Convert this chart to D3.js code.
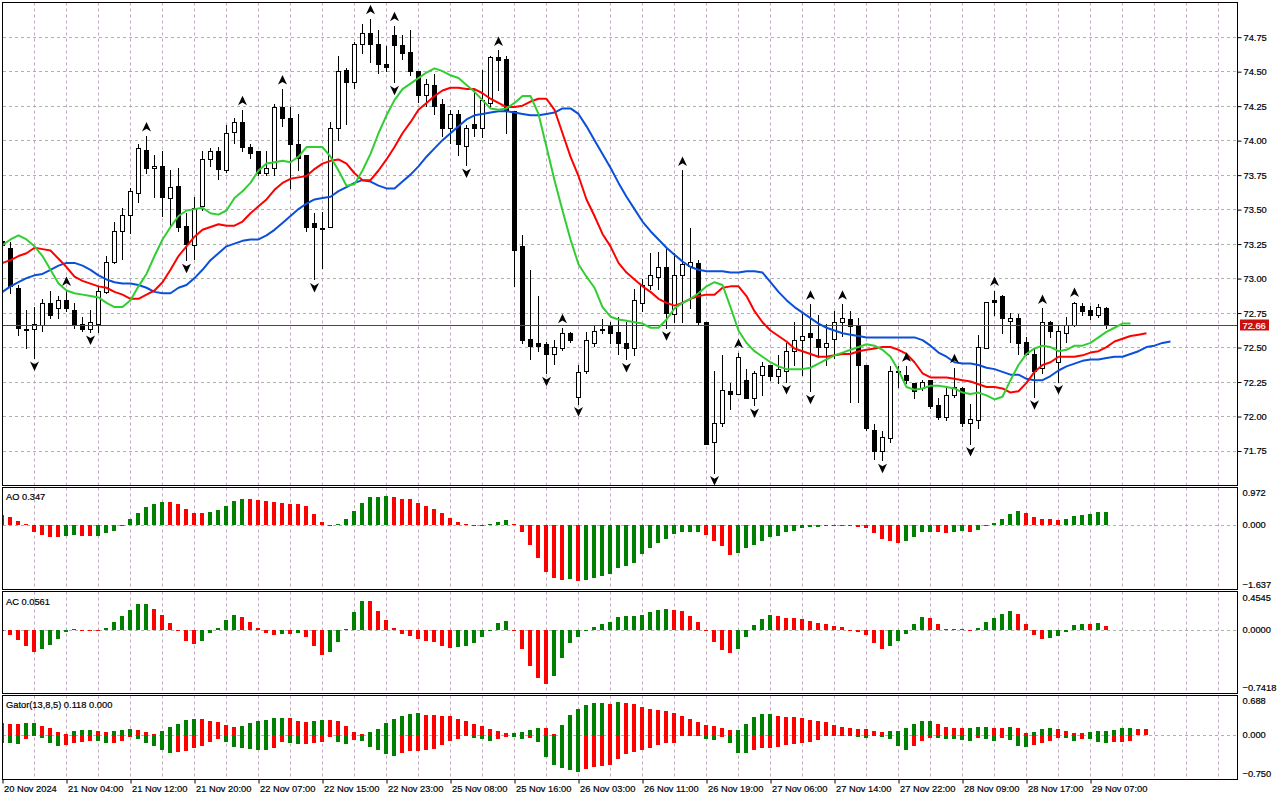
<!DOCTYPE html>
<html>
<head>
<meta charset="utf-8">
<script src="https://cdn.jsdelivr.net/npm/d3@7"></script>
<style>
body { margin: 0; background: #fff; }
svg text { font-family: "Liberation Sans", Arial, sans-serif; font-size: 9.3px; fill: #000; stroke: #000; stroke-width: 0.2px; }
svg text.tag { fill: #fff; stroke: #fff; }
</style>
</head>
<body>
<svg id="chart" width="1280" height="800"></svg>
<script>
var width = 1280, height = 800;

// H1 candles, bar 0 = 20 Nov 20:00
var opens = [73.27,73.22,72.93,72.63,72.63,72.66,72.82,72.78,72.84,72.77,
  72.67,72.63,72.67,72.90,73.12,73.34,73.46,73.62,73.93,73.80,
  73.81,73.58,73.67,73.38,73.24,73.52,73.86,73.92,73.78,74.06,
  74.13,73.95,73.92,73.76,73.80,74.24,74.16,73.97,73.89,73.40,
  73.36,73.37,74.09,74.51,74.42,74.70,74.78,74.70,74.55,74.76,
  74.69,74.64,74.50,74.33,74.40,74.26,74.09,74.19,73.96,74.12,
  74.09,74.27,74.60,74.59,74.21,73.23,72.56,72.53,72.52,72.45,
  72.49,72.60,72.14,72.33,72.53,72.63,72.65,72.61,72.53,72.49,
  72.82,72.95,73.01,73.08,72.74,73.02,73.09,73.11,72.68,71.81,
  71.95,72.18,72.16,72.26,72.13,72.30,72.37,72.29,72.33,72.47,
  72.55,72.60,72.56,72.50,72.56,72.68,72.70,72.65,72.37,71.90,
  71.75,71.84,72.33,72.30,72.24,72.20,72.26,72.08,71.99,72.15,
  72.20,71.95,71.97,72.49,72.84,72.87,72.69,72.71,72.54,72.45,
  72.35,72.68,72.39,72.60,72.66,72.80,72.77,72.73,72.78];
var highs = [73.30,73.26,72.95,72.77,72.79,72.85,72.91,72.87,72.91,72.82,
  72.72,72.77,72.94,73.16,73.41,73.51,73.65,73.97,74.03,73.89,
  73.92,73.78,73.80,73.47,73.59,73.92,73.94,73.95,74.11,74.16,
  74.22,73.97,73.92,73.92,74.26,74.37,74.24,74.19,73.89,73.47,
  73.48,74.13,74.61,74.52,74.71,74.84,74.88,74.80,74.68,74.83,
  74.76,74.80,74.50,74.44,74.48,74.30,74.22,74.22,74.11,74.36,
  74.51,74.61,74.65,74.61,74.21,73.31,73.06,72.87,72.54,72.55,
  72.64,72.61,72.37,72.61,72.66,72.70,72.68,72.72,72.68,72.92,
  72.99,73.18,73.19,73.21,73.18,73.78,73.36,73.13,72.68,72.33,
  72.44,72.24,72.46,72.34,72.33,72.39,72.37,72.44,72.53,72.68,
  72.74,72.81,72.73,72.67,72.76,72.81,72.76,72.71,72.37,71.94,
  71.89,72.36,72.36,72.36,72.24,72.26,72.26,72.13,72.20,72.35,
  72.21,72.09,72.59,72.83,72.91,72.88,72.75,72.74,72.57,72.49,
  72.78,72.69,72.66,72.72,72.83,72.82,72.80,72.81,72.79];
var lows = [73.20,72.89,72.59,72.49,72.42,72.62,72.71,72.71,72.76,72.64,
  72.62,72.61,72.61,72.89,73.11,73.14,73.33,73.55,73.76,73.59,
  73.45,73.37,73.34,73.13,73.14,73.49,73.81,73.72,73.77,73.98,
  73.92,73.87,73.75,73.75,73.75,74.10,73.65,73.78,73.34,72.99,
  73.07,73.37,74.00,74.12,74.38,74.63,74.57,74.49,74.50,74.42,
  74.59,74.47,74.28,74.25,74.19,74.03,73.98,73.89,73.82,74.03,
  74.02,74.24,74.36,74.05,72.94,72.53,72.41,72.47,72.31,72.38,
  72.48,72.54,72.09,72.31,72.51,72.60,72.53,72.45,72.41,72.44,
  72.76,72.92,72.92,72.64,72.68,72.68,72.78,72.66,71.80,71.59,
  71.93,72.05,72.16,72.13,72.08,72.15,72.26,72.24,72.25,72.37,
  72.30,72.18,72.43,72.37,72.42,72.58,72.10,72.10,71.90,71.69,
  71.68,71.81,72.21,72.24,72.13,72.19,72.06,71.98,71.97,72.14,
  71.93,71.80,71.91,72.49,72.73,72.60,72.54,72.45,72.44,72.14,
  72.31,72.57,72.25,72.54,72.65,72.73,72.70,72.72,72.64];
var closes = [73.24,72.94,72.64,72.63,72.67,72.82,72.73,72.84,72.78,72.66,
  72.63,72.68,72.91,73.12,73.34,73.46,73.63,73.94,73.80,73.81,
  73.59,73.66,73.37,73.25,73.51,73.86,73.92,73.79,74.05,74.13,
  73.95,73.91,73.76,73.80,74.24,74.16,73.97,73.87,73.37,73.37,
  73.36,74.09,74.50,74.42,74.70,74.78,74.70,74.55,74.53,74.69,
  74.63,74.50,74.33,74.41,74.25,74.09,74.19,73.97,74.09,74.09,
  74.29,74.60,74.58,74.21,73.20,72.55,72.51,72.51,72.45,72.50,
  72.60,72.55,72.32,72.55,72.62,72.63,72.60,72.53,72.49,72.84,
  72.95,73.02,73.08,72.75,73.02,73.10,73.12,72.68,71.80,71.95,
  72.19,72.16,72.43,72.13,72.31,72.36,72.29,72.34,72.47,72.55,
  72.58,72.57,72.50,72.53,72.68,72.71,72.65,72.37,71.91,71.75,
  71.85,72.33,72.32,72.26,72.18,72.25,72.07,71.99,72.15,72.21,
  71.95,71.98,72.50,72.83,72.83,72.71,72.71,72.53,72.45,72.33,
  72.68,72.62,72.62,72.66,72.82,72.76,72.73,72.79,72.66];

// Alligator lines as drawn (already shifted): jaw, teeth, lips
var jaw = [72.90,72.94,72.97,73.00,73.02,73.03,73.06,73.09,73.11,73.11,
  73.09,73.06,73.02,72.99,72.97,72.96,72.96,72.95,72.93,72.90,
  72.89,72.89,72.93,72.95,73.00,73.06,73.13,73.18,73.23,73.25,
  73.27,73.28,73.28,73.31,73.35,73.40,73.45,73.50,73.54,73.57,
  73.58,73.59,73.63,73.66,73.69,73.71,73.70,73.67,73.65,73.65,
  73.70,73.75,73.81,73.88,73.94,74.00,74.05,74.10,74.15,74.18,
  74.19,74.20,74.21,74.21,74.20,74.19,74.18,74.18,74.19,74.20,
  74.23,74.23,74.19,74.10,74.00,73.90,73.80,73.69,73.59,73.50,
  73.41,73.34,73.28,73.22,73.17,73.12,73.08,73.06,73.05,73.05,
  73.05,73.04,73.04,73.05,73.05,73.04,72.97,72.90,72.84,72.79,
  72.75,72.71,72.67,72.64,72.62,72.60,72.59,72.58,72.57,72.57,
  72.57,72.57,72.57,72.57,72.57,72.55,72.51,72.46,72.43,72.39,
  72.38,72.38,72.37,72.35,72.34,72.32,72.30,72.30,72.27,72.26,
  72.26,72.29,72.33,72.36,72.38,72.40,72.41,72.41,72.42,72.43,
  72.43,72.45,72.47,72.50,72.51,72.53,72.54];
var teeth = [73.11,73.13,73.16,73.18,73.22,73.21,73.20,73.14,73.08,73.01,
  72.98,72.96,72.94,72.93,72.90,72.88,72.85,72.85,72.88,72.91,
  72.97,73.06,73.16,73.23,73.30,73.35,73.37,73.39,73.38,73.38,
  73.41,73.47,73.52,73.57,73.64,73.69,73.72,73.73,73.74,73.79,
  73.83,73.85,73.86,73.83,73.76,73.71,73.71,73.78,73.86,73.95,
  74.05,74.13,74.22,74.27,74.32,74.36,74.38,74.38,74.37,74.37,
  74.34,74.30,74.27,74.24,74.24,74.25,74.28,74.30,74.30,74.22,
  74.05,73.88,73.74,73.57,73.45,73.32,73.23,73.11,73.04,72.99,
  72.94,72.90,72.85,72.82,72.80,72.82,72.85,72.87,72.88,72.88,
  72.93,72.94,72.94,72.87,72.76,72.68,72.62,72.58,72.54,72.49,
  72.47,72.45,72.43,72.43,72.44,72.45,72.45,72.47,72.48,72.49,
  72.50,72.50,72.48,72.45,72.39,72.31,72.28,72.28,72.28,72.27,
  72.26,72.25,72.23,72.21,72.21,72.20,72.17,72.18,72.24,72.32,
  72.37,72.39,72.43,72.43,72.43,72.44,72.46,72.47,72.50,72.54,
  72.56,72.58,72.59,72.60];
var lips = [73.24,73.28,73.31,73.28,73.23,73.16,73.06,72.96,72.91,72.89,
  72.88,72.87,72.86,72.82,72.79,72.79,72.84,72.94,73.03,73.16,
  73.28,73.37,73.45,73.49,73.50,73.51,73.47,73.46,73.49,73.58,
  73.63,73.69,73.78,73.83,73.84,73.85,73.84,73.88,73.95,73.95,
  73.95,73.88,73.78,73.67,73.68,73.78,73.90,74.05,74.18,74.29,
  74.37,74.41,74.45,74.49,74.52,74.50,74.47,74.45,74.40,74.35,
  74.29,74.23,74.22,74.23,74.27,74.32,74.32,74.19,73.95,73.71,
  73.49,73.28,73.10,73.01,72.93,72.79,72.72,72.70,72.69,72.68,
  72.67,72.64,72.64,72.70,72.78,72.82,72.85,72.89,72.94,72.97,
  72.95,72.79,72.62,72.53,72.47,72.43,72.39,72.36,72.34,72.34,
  72.34,72.35,72.38,72.41,72.44,72.46,72.48,72.50,72.52,72.51,
  72.48,72.43,72.33,72.21,72.19,72.20,72.22,72.22,72.21,72.20,
  72.17,72.16,72.17,72.15,72.12,72.14,72.26,72.37,72.45,72.49,
  72.51,72.50,72.47,72.48,72.51,72.51,72.53,72.57,72.61,72.64,
  72.67,72.67];

var upFractals = [8,18,30,35,46,49,62,70,85,92,101,105,113,119,124,130,134];
var downFractals = [4,11,23,39,49,58,68,72,78,83,89,94,98,101,110,121,129,132];

var aoValues = [0.27,0.205,0.107,0.018,-0.179,-0.268,-0.313,-0.339,-0.286,-0.268,
  -0.295,-0.30,-0.29,-0.232,-0.152,-0.01,0.143,0.321,0.473,0.554,
  0.616,0.61,0.554,0.429,0.321,0.32,0.348,0.402,0.509,0.643,
  0.696,0.688,0.652,0.65,0.598,0.596,0.563,0.56,0.509,0.295,
  0.08,-0.005,0.027,0.143,0.357,0.589,0.75,0.752,0.777,0.75,
  0.696,0.679,0.589,0.509,0.429,0.321,0.188,0.08,0.009,-0.036,
  -0.005,0.01,0.08,0.134,0.027,-0.205,-0.536,-0.875,-1.25,-1.41,
  -1.464,-1.438,-1.49,-1.464,-1.41,-1.357,-1.304,-1.161,-1.089,-1.009,
  -0.768,-0.607,-0.473,-0.366,-0.25,-0.196,-0.194,-0.179,-0.268,-0.42,
  -0.58,-0.795,-0.75,-0.607,-0.536,-0.42,-0.339,-0.286,-0.205,-0.152,
  -0.098,-0.063,-0.045,-0.027,-0.01,-0.005,-0.01,-0.045,-0.098,-0.232,
  -0.384,-0.446,-0.482,-0.446,-0.339,-0.205,-0.179,-0.205,-0.21,-0.179,
  -0.175,-0.18,-0.143,-0.027,0.045,0.161,0.286,0.375,0.321,0.205,
  0.161,0.16,0.134,0.161,0.232,0.268,0.295,0.339,0.347];
var aoColors = ("rrrrrrrrgg" + "rrgggggggg" + "grrrrrgggg" + "grrrrrrrrr" + "rrgggggggr" +
  "rrrrrrrrrr" + "ggggrrrrrr" + "rgrggggggg" + "ggggggggrr" + "rrgggggggg" +
  "ggggggrrrr" + "rrrggggrrg" + "grggggggrr" + "rrrgggggg").split("");

var acValues = [-0.01,-0.053,-0.115,-0.2,-0.263,-0.23,-0.181,-0.107,-0.02,0.012,
  0.008,-0.004,-0.004,0.029,0.103,0.177,0.251,0.321,0.325,0.263,
  0.189,0.095,-0.004,-0.132,-0.169,-0.132,-0.029,0.029,0.128,0.189,
  0.16,0.107,0.029,-0.029,-0.053,-0.041,-0.045,-0.029,-0.078,-0.189,
  -0.305,-0.263,-0.14,0.012,0.23,0.362,0.362,0.239,0.128,0.029,
  -0.041,-0.066,-0.103,-0.128,-0.14,-0.189,-0.214,-0.21,-0.2,-0.152,
  -0.078,0.002,0.09,0.115,-0.004,-0.226,-0.436,-0.584,-0.658,-0.56,
  -0.337,-0.152,-0.078,-0.004,0.037,0.078,0.107,0.165,0.177,0.178,
  0.189,0.226,0.247,0.263,0.251,0.239,0.177,0.103,-0.004,-0.14,
  -0.239,-0.276,-0.23,-0.078,0.066,0.14,0.189,0.177,0.152,0.15,
  0.14,0.115,0.09,0.078,0.049,0.037,-0.004,-0.016,-0.053,-0.152,
  -0.226,-0.2,-0.128,-0.041,0.074,0.16,0.148,0.078,0.012,0.013,
  0.012,0.002,0.025,0.107,0.148,0.198,0.239,0.198,0.074,-0.053,
  -0.103,-0.091,-0.066,-0.016,0.066,0.078,0.078,0.09,0.0561];
var acColors = ("rrrrrggggg" + "rrrggggggr" + "rrrrrggggg" + "rrrrrgrgrr" + "rgggggrrrr" +
  "rrrrrrrggg" + "ggggrrrrrg" + "gggggggggg" + "ggggrrrrrr" + "rrgggggrrr" +
  "rrrrrrrrrr" + "rgggggrrrg" + "rrgggggrrr" + "rgggggrgr").split("");

var gatorUp = [0.23,0.216,0.21,0.236,0.243,0.176,0.135,0.054,0.014,0.081,
  0.095,0.10,0.074,0.054,0.081,0.095,0.122,0.095,0.054,0.014,
  0.074,0.162,0.216,0.297,0.318,0.31,0.277,0.257,0.203,0.162,
  0.176,0.236,0.277,0.297,0.338,0.34,0.335,0.284,0.264,0.27,
  0.297,0.29,0.277,0.182,0.054,0.014,0.054,0.115,0.236,0.318,
  0.378,0.425,0.435,0.405,0.399,0.378,0.37,0.318,0.27,0.216,
  0.176,0.115,0.074,0.034,0.04,0.054,0.095,0.135,0.13,0.005,
  0.203,0.399,0.52,0.595,0.635,0.642,0.622,0.662,0.642,0.615,
  0.561,0.52,0.50,0.48,0.439,0.378,0.311,0.257,0.203,0.182,
  0.142,0.095,0.101,0.223,0.358,0.419,0.42,0.378,0.365,0.358,
  0.338,0.304,0.277,0.257,0.203,0.162,0.135,0.115,0.11,0.081,
  0.054,0.074,0.076,0.135,0.216,0.277,0.28,0.223,0.155,0.135,
  0.13,0.135,0.155,0.16,0.135,0.13,0.155,0.135,0.034,0.054,
  0.122,0.135,0.115,0.074,0.034,0.03,0.054,0.074,0.08,0.095,
  0.135,0.14,0.12,0.118];
var gatorUpColors = ("rrrggrrrrg" + "ggrrgggrrr" + "gggggrrrrr" + "ggggggrrrg" + "grrrrrgggg" +
  "gggrrrrrrr" + "rrrrggggrr" + "ggggggrgrr" + "rrrrrrrrrr" + "rrgggggrrr" +
  "rrrrrrrrrr" + "rggggggrrr" + "rgggrrgrrg" + "ggrrrrgggg" + "ggrr").split("");
var gatorDown = [-0.162,-0.176,-0.18,-0.088,-0.01,-0.061,-0.176,-0.223,-0.203,-0.162,
  -0.149,-0.128,-0.13,-0.162,-0.16,-0.128,-0.047,-0.081,-0.162,-0.223,
  -0.311,-0.378,-0.358,-0.324,-0.27,-0.223,-0.149,-0.081,-0.149,-0.243,
  -0.27,-0.291,-0.311,-0.315,-0.27,-0.15,-0.16,-0.19,-0.18,-0.17,
  -0.149,-0.047,-0.149,-0.19,-0.10,-0.12,-0.243,-0.311,-0.392,-0.426,
  -0.378,-0.34,-0.324,-0.311,-0.284,-0.203,-0.122,-0.081,-0.02,-0.061,
  -0.081,-0.122,-0.08,-0.04,-0.045,-0.081,-0.061,-0.142,-0.446,-0.622,
  -0.669,-0.723,-0.75,-0.689,-0.662,-0.642,-0.608,-0.486,-0.392,-0.345,
  -0.311,-0.264,-0.21,-0.176,-0.162,-0.014,-0.02,-0.025,-0.081,-0.108,
  -0.04,-0.162,-0.365,-0.37,-0.311,-0.277,-0.27,-0.243,-0.216,-0.189,
  -0.162,-0.142,-0.108,-0.03,-0.01,-0.012,-0.02,-0.04,-0.061,-0.02,
  -0.04,-0.081,-0.223,-0.304,-0.223,-0.128,-0.061,-0.065,-0.081,-0.085,
  -0.101,-0.122,-0.061,-0.081,-0.122,-0.061,-0.101,-0.223,-0.243,-0.203,
  -0.162,-0.122,-0.061,-0.065,-0.122,-0.081,-0.085,-0.142,-0.162,-0.142,
  -0.14,-0.122];
var gatorDownColors = ("gggrrgggrr" + "rrggrrrggg" + "ggrrrrrrgg" + "ggggrrggrr" + "rrggrggggg" +
  "rrrrrrrrrg" + "ggrrggrggg" + "gggrrrrrrr" + "rrrrrrgggg" + "rgggrrrrrr" +
  "rrrrrggggr" + "ggggrrrggg" + "ggrggrgggr" + "rrrggrgggr" + "rr").split("");

var priceTicks = [71.75, 72.00, 72.25, 72.50, 72.75, 73.00, 73.25, 73.50, 73.75, 74.00, 74.25, 74.50, 74.75];
var lastPrice = 72.66;
var tickBars = [0, 8, 16, 24, 32, 40, 48, 56, 64, 72, 80, 88, 96, 104, 112, 120, 128, 136];
var tickLabels = ["20 Nov 2024", "21 Nov 04:00", "21 Nov 12:00", "21 Nov 20:00", "22 Nov 07:00",
  "22 Nov 15:00", "22 Nov 23:00", "25 Nov 08:00", "25 Nov 16:00", "26 Nov 03:00", "26 Nov 11:00",
  "26 Nov 19:00", "27 Nov 06:00", "27 Nov 14:00", "27 Nov 22:00", "28 Nov 09:00", "28 Nov 17:00",
  "29 Nov 07:00"];

var green = "#008000", red = "#ff0000";
var gridV = "#c2a9c2", gridH = "#aab4aa";

var svg = d3.select("#chart");

var x = d3.scaleLinear().domain([0, 154]).range([2.5, 1234.5]);
var yMain = d3.scaleLinear().domain([71.5, 75.0]).range([485, 2.2]);
var yAO = d3.scaleLinear().domain([-1.637, 0.972]).range([586, 488.5]);
var yAC = d3.scaleLinear().domain([-0.7418, 0.4545]).range([690.3, 593.5]);
var yGator = d3.scaleLinear().domain([-0.75, 0.688]).range([771.7, 700.7]);

var panes = [
  {id: "main", top: 2.5, bottom: 485.5},
  {id: "ao", top: 487.5, bottom: 589.5},
  {id: "ac", top: 591.5, bottom: 693.5},
  {id: "gator", top: 695.5, bottom: 779.5}
];

var defs = svg.append("defs");
panes.forEach(function (p) {
  defs.append("clipPath").attr("id", "clip-" + p.id)
    .append("rect")
    .attr("x", 3).attr("y", p.top + 0.5)
    .attr("width", 1234).attr("height", p.bottom - p.top - 1);
});

// grid
var gridBars = d3.range(4, 153, 4);
panes.forEach(function (p) {
  svg.append("g").selectAll("line").data(gridBars).enter().append("line")
    .attr("x1", function (d) { return x(d); })
    .attr("x2", function (d) { return x(d); })
    .attr("y1", p.top).attr("y2", p.bottom)
    .attr("stroke", gridV).attr("stroke-dasharray", "3,3");
});

svg.append("g").selectAll("line").data(priceTicks).enter().append("line")
  .attr("x1", 3).attr("x2", 1237)
  .attr("y1", function (d) { return Math.round(yMain(d)) + 0.5; })
  .attr("y2", function (d) { return Math.round(yMain(d)) + 0.5; })
  .attr("stroke", gridH).attr("stroke-dasharray", "3,3");

[yAO, yAC, yGator].forEach(function (s) {
  svg.append("line")
    .attr("x1", 3).attr("x2", 1237)
    .attr("y1", Math.round(s(0)) + 0.5).attr("y2", Math.round(s(0)) + 0.5)
    .attr("stroke", gridH).attr("stroke-dasharray", "3,3");
});

// candles
var main = svg.append("g").attr("clip-path", "url(#clip-main)");

var candles = main.selectAll("g.candle").data(opens).enter().append("g").attr("class", "candle");
candles.append("line")
  .attr("x1", function (d, i) { return x(i); })
  .attr("x2", function (d, i) { return x(i); })
  .attr("y1", function (d, i) { return Math.round(yMain(highs[i])); })
  .attr("y2", function (d, i) { return Math.round(yMain(lows[i])) + 1; })
  .attr("stroke", "#000");
candles.append("rect")
  .attr("x", function (d, i) { return x(i) - 2; })
  .attr("width", 4)
  .attr("y", function (d, i) { return Math.round(yMain(Math.max(d, closes[i]))) + 0.5; })
  .attr("height", function (d, i) {
    var h = Math.round(yMain(Math.min(d, closes[i]))) - Math.round(yMain(Math.max(d, closes[i])));
    return Math.max(h, 1);
  })
  .attr("fill", function (d, i) { return closes[i] >= d ? "#fff" : "#000"; })
  .attr("stroke", "#000");

// bid line
main.append("line")
  .attr("x1", 3).attr("x2", 1237)
  .attr("y1", Math.round(yMain(lastPrice)) + 0.5)
  .attr("y2", Math.round(yMain(lastPrice)) + 0.5)
  .attr("stroke", "#b31b1b");

// alligator
var priceLine = d3.line()
  .x(function (d, i) { return x(i); })
  .y(function (d) { return yMain(d); });

[[jaw, "#0a4fd8"], [teeth, "#ff0000"], [lips, "#32cd32"]].forEach(function (s) {
  main.append("path")
    .attr("d", priceLine(s[0]))
    .attr("fill", "none")
    .attr("stroke", s[1])
    .attr("stroke-width", 2)
    .attr("stroke-linejoin", "round");
});

// fractals
main.selectAll("path.up").data(upFractals).enter().append("path")
  .attr("class", "up")
  .attr("d", "M0,-5L4.5,4.5L0,1.8L-4.5,4.5Z")
  .attr("transform", function (d) { return "translate(" + x(d) + "," + (yMain(highs[d]) - 9) + ")"; })
  .attr("fill", "#000");
main.selectAll("path.down").data(downFractals).enter().append("path")
  .attr("class", "down")
  .attr("d", "M0,5L4.5,-4.5L0,-1.8L-4.5,-4.5Z")
  .attr("transform", function (d) { return "translate(" + x(d) + "," + (yMain(lows[d]) + 8) + ")"; })
  .attr("fill", "#000");

// histograms
function histogram(paneId, scale, values, colors) {
  var zero = Math.round(scale(0));
  svg.append("g").attr("clip-path", "url(#clip-" + paneId + ")")
    .selectAll("rect").data(values).enter().append("rect")
    .attr("x", function (d, i) { return x(i) - 2.5; })
    .attr("width", 4)
    .attr("y", function (d) { return d >= 0 ? Math.round(scale(d)) : zero; })
    .attr("height", function (d) { return Math.max(Math.abs(Math.round(scale(d)) - zero), 1); })
    .attr("fill", function (d, i) { return colors[i] === "g" ? green : red; });
}
histogram("ao", yAO, aoValues, aoColors);
histogram("ac", yAC, acValues, acColors);
histogram("gator", yGator, gatorUp, gatorUpColors);
histogram("gator", yGator, gatorDown, gatorDownColors);

// pane borders
panes.forEach(function (p) {
  svg.append("rect")
    .attr("x", 2.5).attr("y", p.top)
    .attr("width", 1235).attr("height", p.bottom - p.top)
    .attr("fill", "none").attr("stroke", "#000");
});

// price axis
var priceAxis = d3.axisRight(yMain)
  .tickValues(priceTicks)
  .tickSize(4)
  .tickPadding(2)
  .tickFormat(d3.format(".2f"));
var pa = svg.append("g")
  .attr("transform", "translate(1237.5,0.5)")
  .attr("color", "#000")
  .call(priceAxis);
pa.select(".domain").remove();

// last price tag
var lastY = Math.round(yMain(lastPrice));
svg.append("rect")
  .attr("x", 1240).attr("y", lastY - 5.5)
  .attr("width", 29).attr("height", 11)
  .attr("fill", "#c81010");
svg.append("text")
  .attr("class", "tag")
  .attr("x", 1242.5).attr("y", lastY + 3.5)
  .text(d3.format(".2f")(lastPrice));

// sub pane scales
function paneAxis(scale, values, fmt, shifts) {
  var axis = d3.axisRight(scale).tickValues(values).tickSize(0).tickPadding(5).tickFormat(d3.format(fmt));
  var g = svg.append("g").attr("transform", "translate(1237.5,0)").attr("color", "#000").call(axis);
  g.select(".domain").remove();
  g.selectAll(".tick text").attr("dy", function (d, i) { return (3 + shifts[i]) + "px"; });
}
paneAxis(yAO, [0.972, 0, -1.637], ".3f", [3.5, 0, -1.7]);
paneAxis(yAC, [0.4545, 0, -0.7418], ".4f", [4.2, -1, -3]);
paneAxis(yGator, [0.688, 0, -0.75], ".3f", [0, -0.5, 1.6]);

svg.append("text").attr("x", 6).attr("y", 500).text("AO " + d3.format(".3f")(aoValues[aoValues.length - 1]));
svg.append("text").attr("x", 6).attr("y", 605).text("AC " + d3.format(".4f")(acValues[acValues.length - 1]));
svg.append("text").attr("x", 6).attr("y", 707.5).text("Gator(13,8,5) " + d3.format(".3f")(gatorUp[gatorUp.length - 1]) + " 0.000");

// time axis
var timeAxis = d3.axisBottom(x)
  .tickValues(tickBars)
  .tickSize(4)
  .tickPadding(2)
  .tickFormat(function (d, i) { return tickLabels[i]; });
var ta = svg.append("g")
  .attr("transform", "translate(0,779.5)")
  .attr("color", "#000")
  .call(timeAxis);
ta.select(".domain").remove();
ta.selectAll(".tick text").attr("text-anchor", "start").attr("x", 1);
</script>
</body>
</html>
